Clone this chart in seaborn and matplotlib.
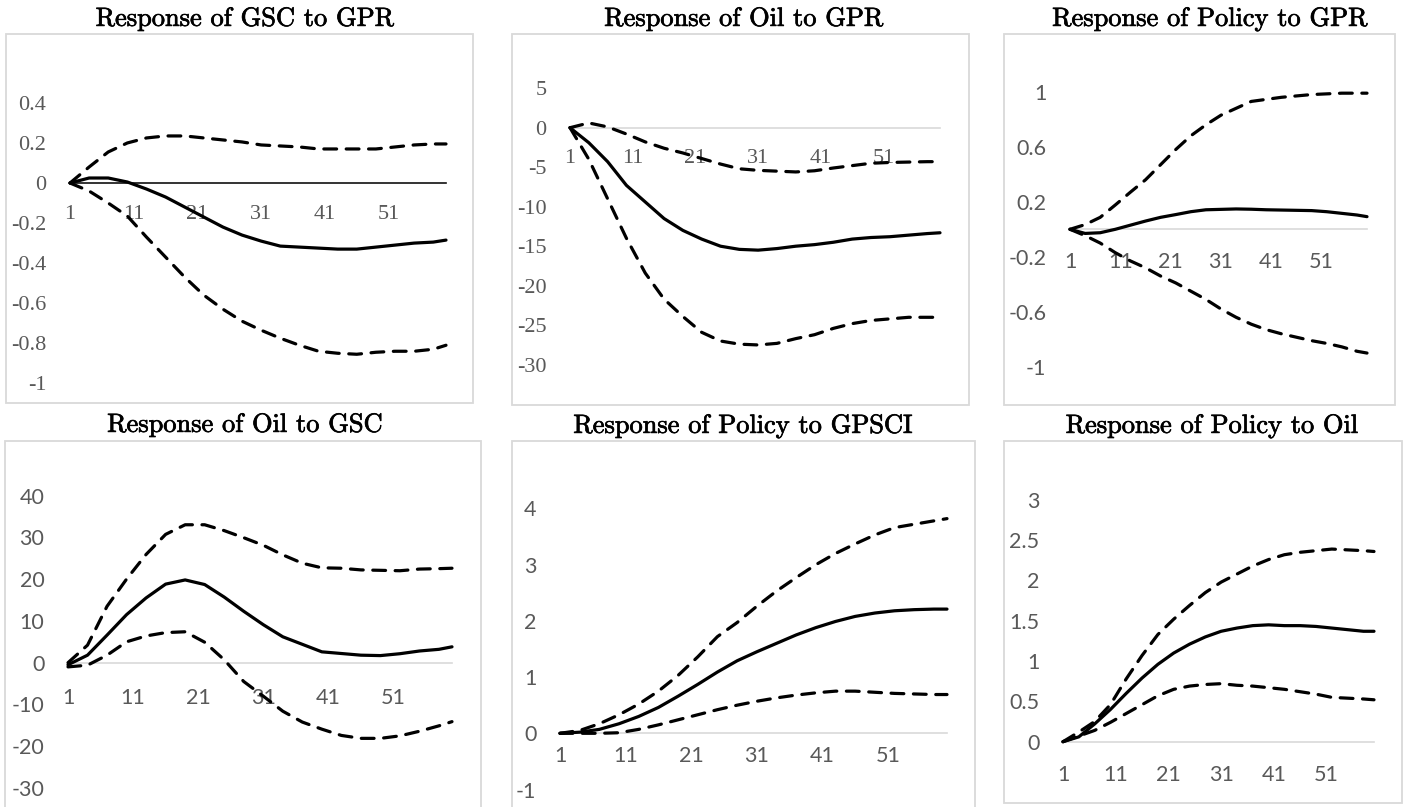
"""Impulse responses (IRF with upper/lower bands) for six shock pairs."""

import matplotlib

matplotlib.use("Agg")

import matplotlib.patheffects as pe
import matplotlib.pyplot as plt
import pandas as pd
import seaborn as sns
from matplotlib.patches import Rectangle


FIG_W, FIG_H = 1403, 807

# horizons (every third period plus the last one)
PERIODS = [1, 4, 7, 10, 13, 16, 19, 22, 25, 28, 31, 34, 37, 40, 43, 46, 49, 52, 55, 58, 60]
X_TICKS = [1, 11, 21, 31, 41, 51]

TITLES = [
    "Response of GSC to GPR",
    "Response of Oil to GPR",
    "Response of Policy to GPR",
    "Response of Oil to GSC",
    "Response of Policy to GPSCI",
    "Response of Policy to Oil",
]

gsc_gpr_irf = [0, 0.025, 0.025, 0.005, -0.03, -0.07, -0.12, -0.17, -0.22, -0.26, -0.29,
               -0.315, -0.32, -0.325, -0.33, -0.33, -0.32, -0.31, -0.30, -0.295, -0.285]
gsc_gpr_upper = [0, 0.08, 0.155, 0.2, 0.225, 0.235, 0.235, 0.225, 0.215, 0.205, 0.19,
                 0.185, 0.18, 0.17, 0.17, 0.17, 0.17, 0.18, 0.19, 0.195, 0.195]
gsc_gpr_lower = [0, -0.04, -0.1, -0.165, -0.27, -0.37, -0.47, -0.56, -0.63, -0.69, -0.735,
                 -0.775, -0.81, -0.84, -0.85, -0.855, -0.845, -0.84, -0.84, -0.83, -0.81]

oil_gpr_irf = [0, -1.9, -4.3, -7.3, -9.4, -11.5, -13.0, -14.1, -15.0, -15.4, -15.5,
               -15.3, -15.0, -14.8, -14.5, -14.1, -13.9, -13.8, -13.6, -13.4, -13.3]
oil_gpr_upper = [0, 0.6, 0.1, -0.8, -1.8, -2.6, -3.2, -3.9, -4.6, -5.2, -5.4,
                 -5.5, -5.6, -5.45, -5.1, -4.8, -4.5, -4.4, -4.35, -4.3, -4.3]
oil_gpr_lower = [0, -4.0, -9.0, -14.0, -18.4, -21.7, -23.9, -25.9, -27.0, -27.4, -27.5,
                 -27.3, -26.7, -26.2, -25.4, -24.8, -24.4, -24.2, -24.0, -24.0, -24.0]

pol_gpr_irf = [0, -0.03, -0.025, 0.0, 0.03, 0.06, 0.087, 0.107, 0.128, 0.142, 0.145,
               0.148, 0.146, 0.142, 0.14, 0.138, 0.136, 0.128, 0.116, 0.104, 0.092]
pol_gpr_upper = [0, 0.034, 0.087, 0.177, 0.27, 0.36, 0.47, 0.58, 0.68, 0.76, 0.83,
                 0.88, 0.93, 0.945, 0.96, 0.97, 0.98, 0.985, 0.99, 0.99, 0.99]
pol_gpr_lower = [0, -0.046, -0.1, -0.17, -0.23, -0.28, -0.34, -0.39, -0.45, -0.51, -0.58,
                 -0.64, -0.69, -0.73, -0.76, -0.785, -0.81, -0.83, -0.855, -0.887, -0.9]

oil_gsc_irf = [-0.5, 1.8, 6.6, 11.5, 15.5, 18.8, 19.8, 18.7, 15.7, 12.3, 9.1,
               6.2, 4.4, 2.6, 2.2, 1.8, 1.7, 2.15, 2.8, 3.2, 3.8]
oil_gsc_upper = [0, 4.2, 13.5, 20.0, 25.9, 30.7, 33.0, 33.0, 31.6, 29.9, 28.1,
                 25.8, 23.8, 22.7, 22.6, 22.2, 22.1, 22.0, 22.4, 22.5, 22.6]
oil_gsc_lower = [-1.0, -0.6, 1.8, 5.0, 6.4, 7.2, 7.4, 4.9, 0.7, -4.5, -8.0,
                 -11.6, -14.2, -15.9, -17.4, -18.1, -18.1, -17.5, -16.4, -15.1, -14.1]

pol_gpsci_irf = [0, 0.02, 0.07, 0.17, 0.3, 0.46, 0.66, 0.87, 1.09, 1.29, 1.45,
                 1.6, 1.75, 1.88, 1.99, 2.08, 2.14, 2.18, 2.2, 2.21, 2.21]
pol_gpsci_upper = [0, 0.05, 0.17, 0.33, 0.52, 0.75, 1.03, 1.36, 1.72, 1.97, 2.26,
                   2.53, 2.77, 3.0, 3.2, 3.37, 3.53, 3.66, 3.72, 3.78, 3.82]
pol_gpsci_lower = [0, 0, 0, 0.01, 0.07, 0.15, 0.24, 0.33, 0.42, 0.5, 0.57,
                   0.63, 0.68, 0.72, 0.75, 0.75, 0.73, 0.71, 0.7, 0.69, 0.69]

pol_oil_irf = [0, 0.06, 0.22, 0.4, 0.6, 0.79, 0.96, 1.1, 1.21, 1.3, 1.37,
               1.41, 1.44, 1.45, 1.44, 1.44, 1.43, 1.41, 1.39, 1.37, 1.37]
pol_oil_upper = [0, 0.12, 0.25, 0.46, 0.78, 1.07, 1.33, 1.52, 1.69, 1.85, 1.98,
                 2.08, 2.18, 2.26, 2.32, 2.35, 2.37, 2.39, 2.38, 2.37, 2.36]
pol_oil_lower = [0, 0.07, 0.14, 0.24, 0.35, 0.46, 0.57, 0.65, 0.69, 0.71, 0.72,
                 0.70, 0.69, 0.67, 0.65, 0.62, 0.59, 0.55, 0.54, 0.53, 0.52]

Y_TICKS = [
    [0.4, 0.2, 0, -0.2, -0.4, -0.6, -0.8, -1],
    [5, 0, -5, -10, -15, -20, -25, -30],
    [1, 0.6, 0.2, -0.2, -0.6, -1],
    [40, 30, 20, 10, 0, -10, -20, -30],
    [4, 3, 2, 1, 0, -1],
    [3, 2.5, 2, 1.5, 1, 0.5, 0],
]
Y_LABELS = [
    ["0.4", "0.2", "0", "-0.2", "-0.4", "-0.6", "-0.8", "-1"],
    ["5", "0", "-5", "-10", "-15", "-20", "-25", "-30"],
    ["1", "0.6", "0.2", "-0.2", "-0.6", "-1"],
    ["40", "30", "20", "10", "0", "-10", "-20", "-30"],
    ["4", "3", "2", "1", "0", "-1"],
    ["3", "2.5", "2", "1.5", "1", "0.5", "0"],
]

SERIES = [
    (gsc_gpr_irf, gsc_gpr_upper, gsc_gpr_lower),
    (oil_gpr_irf, oil_gpr_upper, oil_gpr_lower),
    (pol_gpr_irf, pol_gpr_upper, pol_gpr_lower),
    (oil_gsc_irf, oil_gsc_upper, oil_gsc_lower),
    (pol_gpsci_irf, pol_gpsci_upper, pol_gpsci_lower),
    (pol_oil_irf, pol_oil_upper, pol_oil_lower),
]

# layout in pixels: plot area (x0, top, x1, bottom), outer box, title centre
LAYOUT = [
    dict(area=(70, 102.9, 446, 383.3), ylim=(-1, 0.4), box=(6, 34, 473, 403),
         title=(245, 19), font="Liberation Serif", fsize=16, axis="#111111", xpad=15.5),
    dict(area=(570, 88.2, 940, 364.7), ylim=(-30, 5), box=(512, 34, 969, 405),
         title=(744, 19), font="Liberation Serif", fsize=16, axis="#D9D9D9", xpad=15.5),
    dict(area=(1070, 91.8, 1367, 366.8), ylim=(-1, 1), box=(1004, 34, 1395, 405),
         title=(1210, 19), font="Lato", fsize=15.5, axis="#D9D9D9", xpad=16.5),
    dict(area=(68, 495.5, 452, 788.1), ylim=(-30, 40), box=(5, 441, 481, 812),
         title=(245, 425), font="Lato", fsize=15.5, axis="#D9D9D9", xpad=18),
    dict(area=(560, 508.5, 947, 789.5), ylim=(-1, 4), box=(512, 441, 975, 812),
         title=(743, 426), font="Lato", fsize=15.5, axis="#D9D9D9", xpad=9.5),
    dict(area=(1063, 499.9, 1374, 741.7), ylim=(0, 3), box=(1004, 441, 1402, 803),
         title=(1212, 426), font="Lato", fsize=15.5, axis="#D9D9D9", xpad=17),
]

TICK_COLOR = "#595959"


def to_fig(x0, y0, x1, y1):
    """Pixel box (top-left origin) to figure-fraction [left, bottom, w, h]."""
    return [x0 / FIG_W, 1 - y1 / FIG_H, (x1 - x0) / FIG_W, (y1 - y0) / FIG_H]


sns.set_style("white")
fig = plt.figure(figsize=(FIG_W / 100, FIG_H / 100), dpi=100)

for title, (irf, upper, lower), yt, yl, spec in zip(TITLES, SERIES, Y_TICKS, Y_LABELS, LAYOUT):
    n = len(PERIODS)
    df = pd.DataFrame(
        {
            "period": PERIODS * 3,
            "value": irf + upper + lower,
            "series": ["irf"] * n + ["upper"] * n + ["lower"] * n,
        }
    )

    bx0, by0, bx1, by1 = spec["box"]
    fig.add_artist(
        Rectangle(
            (bx0 / FIG_W, 1 - by1 / FIG_H),
            (bx1 - bx0) / FIG_W,
            (by1 - by0) / FIG_H,
            transform=fig.transFigure,
            fill=False,
            edgecolor="#D9D9D9",
            linewidth=1.3,
        )
    )

    ax = fig.add_axes(to_fig(*spec["area"]))
    ax.patch.set_alpha(0)
    sns.lineplot(
        data=df,
        x="period",
        y="value",
        style="series",
        dashes={"irf": "", "upper": (4, 3), "lower": (4, 3)},
        color="black",
        linewidth=2.3,
        estimator=None,
        legend=False,
        ax=ax,
        zorder=3,
        clip_on=False,
        dash_capstyle="round",
        solid_capstyle="round",
        solid_joinstyle="round",
    )

    ax.set_xlim(1, 60)
    ax.set_ylim(*spec["ylim"])
    for side in ("top", "right", "left"):
        ax.spines[side].set_visible(False)
    ax.spines["bottom"].set_position(("data", 0))
    ax.spines["bottom"].set_color(spec["axis"])
    ax.spines["bottom"].set_linewidth(1.2)
    ax.spines["bottom"].set_zorder(2)

    tick_font = dict(fontfamily=spec["font"], fontsize=spec["fsize"], color=TICK_COLOR)
    ax.set_xticks(X_TICKS, labels=[str(t) for t in X_TICKS], **tick_font)
    ax.set_yticks(yt, labels=yl, **tick_font)
    ax.tick_params(axis="x", length=0, pad=spec["xpad"])
    ax.tick_params(axis="y", length=0, pad=17)
    ax.set_xlabel("")
    ax.set_ylabel("")
    ax.grid(False)

    fig.text(
        spec["title"][0] / FIG_W,
        1 - spec["title"][1] / FIG_H,
        title,
        ha="center",
        va="center",
        fontfamily="cmr10",
        fontsize=19,
        color="black",
        path_effects=[pe.withStroke(linewidth=0.5, foreground="black")],
    )

fig.savefig("out.png", dpi=100)
plt.close(fig)
